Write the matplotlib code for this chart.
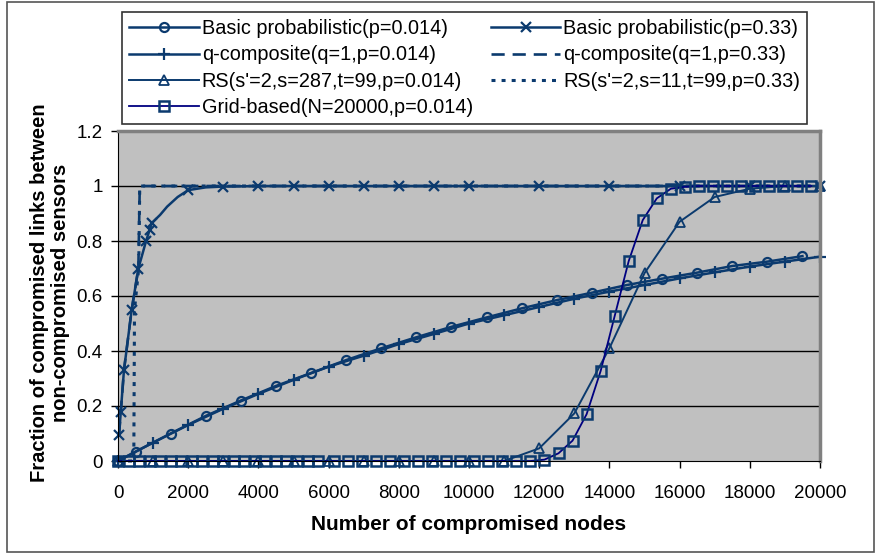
import matplotlib
matplotlib.use("Agg")
import matplotlib.pyplot as plt
from matplotlib.patches import Rectangle

plt.rcParams['font.family'] = ['Liberation Sans', 'DejaVu Sans']

# datos
basic014_x = [0, 500, 1500, 2500, 3500, 4500, 5500, 6500, 7500, 8500, 9500,
              10500, 11500, 12500, 13500, 14500, 15500, 16500, 17500, 18500, 19500]
basic014_y = [0, 0.034, 0.10, 0.164, 0.22, 0.273, 0.32, 0.367, 0.41, 0.45, 0.488,
              0.522, 0.555, 0.585, 0.612, 0.64, 0.663, 0.685, 0.709, 0.725, 0.745]

basic033_x = [30, 80, 170, 390, 580, 800, 900, 960, 1200, 1400, 1700, 2000, 2500, 3000,
              4000, 5000, 6000, 7000, 8000, 9000, 10000, 12000, 14000, 16000, 18000, 20000]
basic033_y = [0.095, 0.18, 0.33, 0.55, 0.70, 0.80, 0.84, 0.865, 0.895, 0.925, 0.96, 0.985, 0.995, 0.998,
              1, 1, 1, 1, 1, 1, 1, 1, 1, 1, 1, 1]
basic033_marks = [0, 1, 2, 3, 4, 5, 6, 7, 11, 13, 14, 15, 16, 17, 18, 19, 20, 21, 22, 23, 24, 25]

q014_x = [0, 1000, 2000, 3000, 4000, 5000, 6000, 7000, 8000, 9000, 10000,
          11000, 12000, 13000, 14000, 15000, 16000, 17000, 18000, 19000, 20000]
q014_y = [0, 0.067, 0.131, 0.19, 0.244, 0.295, 0.343, 0.383, 0.425, 0.462, 0.50,
          0.53, 0.56, 0.59, 0.616, 0.64, 0.664, 0.686, 0.707, 0.725, 0.743]

q033_x = [30, 80, 170, 390, 580, 620, 1000, 2000, 5000, 10000, 15000, 20000]
q033_y = [0.095, 0.18, 0.33, 0.55, 0.70, 1, 1, 1, 1, 1, 1, 1]

rs014_x = [0, 1000, 2000, 3000, 4000, 5000, 6000, 7000, 8000, 9000, 10000,
           11000, 12000, 13000, 14000, 15000, 16000, 17000, 18000, 19000, 20000]
rs014_y = [0, 0, 0, 0, 0, 0, 0, 0, 0, 0, 0,
           0, 0.046, 0.173, 0.41, 0.683, 0.87, 0.96, 0.99, 1.0, 1.0]

rs033_x = [0, 450, 470, 590, 620, 1000, 2000, 5000, 10000, 15000, 20000]
rs033_y = [0, 0, 0.55, 0.70, 1, 1, 1, 1, 1, 1, 1]

grid_x = [0, 300, 600, 900, 1200, 1500, 1800, 2100, 2400, 2700, 3000, 3300, 3600, 3900,
          4200, 4500, 4800, 5100, 5400, 5700, 6150, 6550, 6950, 7350, 7750, 8150, 8550,
          8950, 9350, 9750, 10150, 10550, 10950, 11350, 11750, 12150, 12550, 12950, 13350,
          13750, 14150, 14550, 14950, 15350, 15750, 16150, 16550, 16950, 17350, 17750,
          18150, 18550, 18950, 19350, 19750]
grid_y = [0] * 35 + [0.005, 0.028, 0.074, 0.17, 0.327, 0.527, 0.727, 0.876, 0.955,
                     0.99, 0.997, 1, 1, 1, 1, 1, 1, 1, 1, 1]

x_ticks = list(range(0, 20001, 2000))
y_ticks = [0, 0.2, 0.4, 0.6, 0.8, 1.0, 1.2]
y_labels = ['0', '0.2', '0.4', '0.6', '0.8', '1', '1.2']

azul = '#0B3A6E'
navy = '#000080'

fig = plt.figure(figsize=(8.75, 5.54), dpi=100)
ax = fig.add_axes([118 / 875, 1 - 461 / 554, 702 / 875, 330 / 554])
ax.set_facecolor('#C0C0C0')

comun = dict(color=azul, lw=1.8, clip_on=False, mfc='none', mec=azul, mew=1.6)
l1, = ax.plot(basic014_x, basic014_y, marker='o', ms=6.5, label='Basic probabilistic(p=0.014)', **comun)
l2, = ax.plot(basic033_x, basic033_y, marker='x', ms=7, markevery=basic033_marks,
              label='Basic probabilistic(p=0.33)', **comun)
l3, = ax.plot(q014_x, q014_y, marker='+', ms=9, label='q-composite(q=1,p=0.014)', **comun)
l4, = ax.plot(q033_x, q033_y, ls=(0, (5, 3)), color=azul, lw=1.9, clip_on=False,
              label='q-composite(q=1,p=0.33)')
l5, = ax.plot(rs014_x, rs014_y, marker='^', ms=7, label="RS(s'=2,s=287,t=99,p=0.014)",
              color=azul, lw=1.4, clip_on=False, mfc='none', mec=azul, mew=1.3)
l6, = ax.plot(rs033_x, rs033_y, ls=(0, (1.3, 2)), color=azul, lw=2.2, clip_on=False,
              label="RS(s'=2,s=11,t=99,p=0.33)")
l7, = ax.plot(grid_x, grid_y, marker='s', ms=6.5, color=navy, lw=1.3, clip_on=False,
              mfc='none', mec=azul, mew=1.8, label='Grid-based(N=20000,p=0.014)')

ax.set_xlim(0, 20000)
ax.set_ylim(0, 1.2)
ax.set_xticks(x_ticks)
ax.set_xticklabels([str(v) for v in x_ticks])
ax.set_yticks(y_ticks)
ax.set_yticklabels(y_labels)
ax.tick_params(axis='both', direction='out', length=5, width=1, labelsize=13.5, colors='black')
ax.tick_params(axis='x', pad=12)
ax.tick_params(axis='y', pad=6)
for yv in y_ticks[1:-1]:
    ax.axhline(yv, color='black', lw=1, zorder=0.5)

ax.spines['left'].set_color('black')
ax.spines['bottom'].set_color('black')
ax.spines['top'].set_color('#808080')
ax.spines['right'].set_color('#808080')
ax.spines['top'].set_linewidth(2.5)
ax.spines['right'].set_linewidth(2.5)

fig.text(469 / 875, 1 - 524 / 554, 'Number of compromised nodes', ha='center', va='center',
         fontsize=15, fontweight='bold')
fig.text(50 / 875, 1 - 293 / 554, 'Fraction of compromised links between\nnon-compromised sensors',
         ha='center', va='center', rotation=90, fontsize=14.5, fontweight='bold',
         multialignment='center', linespacing=1.15)

# leyenda en dos columnas, orden por filas como en Excel
handles = [l1, l3, l5, l7, l2, l4, l6]
leg = fig.legend(handles=handles, labels=[h.get_label() for h in handles], ncol=2,
                 loc='upper left', bbox_to_anchor=(122 / 875, 1 - 12 / 554),
                 fontsize=14.3, frameon=True, fancybox=False, edgecolor='black',
                 handlelength=3.5, handletextpad=0.15, columnspacing=0.9,
                 labelspacing=0.37, borderpad=0.36, borderaxespad=0)
leg.get_frame().set_linewidth(1.2)

# marco exterior
fig.patches.append(Rectangle((7 / 875, 2 / 554), 867 / 875, 550 / 554, transform=fig.transFigure,
                             fill=False, edgecolor='#555555', lw=1.2))

fig.savefig('out.png', dpi=100)
